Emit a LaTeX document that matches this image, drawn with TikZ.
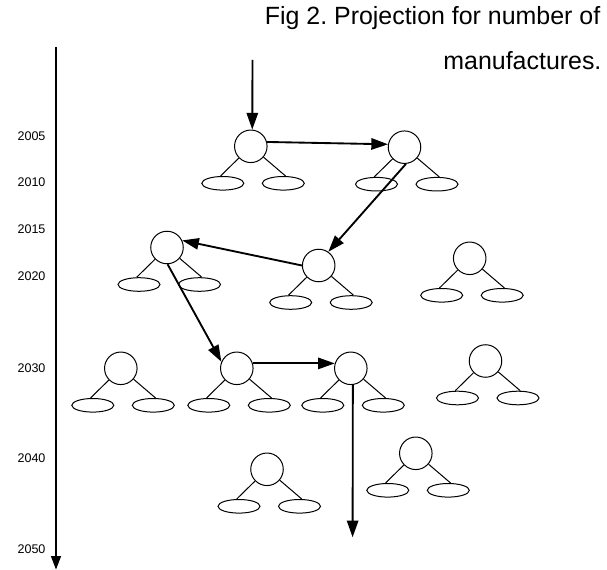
\documentclass[tikz,border=0pt]{standalone}
\usepackage{fontspec}
\setmainfont{Liberation Sans}
\usetikzlibrary{arrows.meta,shapes.geometric}
\frenchspacing

% one small tree: a root circle with two leaf ellipses hanging below it
\newcommand\drawtree[3]{%
  \begin{scope}[shift={(#2,#3)}]
    \node[hub] (#1) at (0,0) {};
    \node[leaf] (#1a) at (-28,37) {};
    \node[leaf] (#1b) at (32.5,37) {};
    \draw[twig] (#1) -- ([xshift=-1.7pt]#1a.north);
    \draw[twig] (#1) -- ([xshift=1.7pt]#1b.north);
  \end{scope}}

\begin{document}
\begin{tikzpicture}[x=0.75pt,y=-0.75pt,
  hub/.style={draw, circle, minimum size=24.4pt, inner sep=0pt, line width=0.75pt},
  leaf/.style={draw, ellipse, minimum width=31.5pt, minimum height=10.2pt, inner sep=0pt, line width=0.75pt},
  twig/.style={line width=0.75pt},
  flow/.style={line width=1.4pt, -{Triangle[length=12.5pt,width=8.5pt]}},
  axisline/.style={line width=0.8pt, -{Triangle[length=10pt,width=7.5pt]}},
  year/.style={anchor=west, inner sep=0pt, font=\fontsize{9.4pt}{11pt}\selectfont},
  caption/.style={anchor=base east, inner sep=0pt, font=\fontsize{18.7pt}{22pt}\selectfont}]

\fill[white] (0,0) rectangle (607,570);
\useasboundingbox (0,0) rectangle (607,570);

% caption
\node[caption] (cap1) at (600.5,25) {Fig 2. Projection for number of};
\node[caption] (cap2) at (601.7,70) {manufactures.};

% time axis
\coordinate (axtop) at (56,47);
\coordinate (axend) at (56,569.5);
\draw[axisline] (axtop) -- (axend);

\node[year] (y2005) at (17.3,136) {2005};
\node[year] (y2010) at (17.3,182.3) {2010};
\node[year] (y2015) at (17.3,229) {2015};
\node[year] (y2020) at (17.3,276) {2020};
\node[year] (y2030) at (17.3,367.7) {2030};
\node[year] (y2040) at (17.3,457.7) {2040};
\node[year] (y2050) at (17.3,549.3) {2050};

% trees
\drawtree{ta}{250.8}{146.3}
\drawtree{tb}{404.5}{147.2}
\drawtree{tc}{167}{247.5}
\drawtree{td}{318.7}{265.5}
\drawtree{te}{469.7}{258.3}
\drawtree{tf}{120.8}{368.3}
\drawtree{tg}{236.8}{368.3}
\drawtree{th}{350.8}{368.3}
\drawtree{ti}{485.5}{361}
\drawtree{tj}{267}{469.3}
\drawtree{tk}{415.8}{453.3}

% projection path
\coordinate (entry) at (252.5,60);
\coordinate (exit) at (352.6,537.3);
\draw[flow] (entry) -- (ta.85);
\draw[flow] (ta.15) -- (tb.170);
\draw[flow] (tb.-85) -- (td.55);
\draw[flow] (td.west) -- (tc.25);
\draw[flow] (tc.-88) -- (tg.157);
\draw[flow] (tg.17) -- (th.163);
\draw[flow] (th.-83) -- (exit);
\end{tikzpicture}
\end{document}
